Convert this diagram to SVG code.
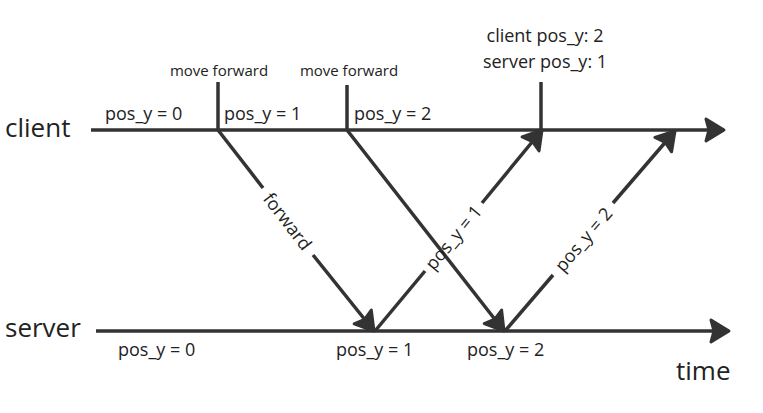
<svg xmlns="http://www.w3.org/2000/svg" width="763" height="413" viewBox="0 0 763 413">
<defs>
<marker id="ah" markerUnits="userSpaceOnUse" viewBox="0 0 24 28" refX="21" refY="14" markerWidth="24" markerHeight="28" orient="auto">
<path d="M3,3 L21,14 L3,25 L6,14 Z" fill="#333" stroke="#333" stroke-width="3" stroke-linejoin="round"/>
</marker>
</defs>
<style>
text{font-family:"Open Sans","Noto Sans",sans-serif;fill:#222}
.ln{stroke:#333;stroke-width:3.5;fill:none;stroke-linecap:butt}
.big{font-size:26px}
.lbl{font-size:18px}
.sm{font-size:15px}
.rot{font-size:18px;text-anchor:middle;dominant-baseline:central}
</style>
<g id="timeline-labels">
<text class="big" x="5" y="137">client</text>
<text class="big" x="5" y="337">server</text>
<text class="big" x="676" y="380">time</text>
</g>
<g id="connectors">
<line class="ln" x1="91" y1="130" x2="724" y2="130" marker-end="url(#ah)"/>
<line class="ln" x1="96" y1="331" x2="729" y2="331" marker-end="url(#ah)"/>
<line class="ln" x1="218" y1="82" x2="218" y2="130"/>
<line class="ln" x1="347" y1="85" x2="347" y2="130"/>
<line class="ln" x1="541" y1="82" x2="541" y2="130"/>
<line class="ln" x1="218" y1="130" x2="263" y2="188"/>
<line class="ln" x1="313" y1="255" x2="374" y2="331" marker-end="url(#ah)"/>
<line class="ln" x1="347" y1="130" x2="504" y2="331" marker-end="url(#ah)"/>
<line class="ln" x1="375" y1="331" x2="425" y2="271"/>
<line class="ln" x1="482" y1="203" x2="542" y2="130" marker-end="url(#ah)"/>
<line class="ln" x1="505" y1="331" x2="553" y2="275"/>
<line class="ln" x1="613" y1="203" x2="675" y2="131" marker-end="url(#ah)"/>
</g>
<g id="client-states">
<text class="lbl" x="105" y="120">pos_y = 0</text>
<text class="lbl" x="224" y="120">pos_y = 1</text>
<text class="lbl" x="354" y="120">pos_y = 2</text>
<text class="sm" x="219" y="76" text-anchor="middle">move forward</text>
<text class="sm" x="349" y="76" text-anchor="middle">move forward</text>
<text class="lbl" x="545" y="42" text-anchor="middle">client pos_y: 2</text>
<text class="lbl" x="545" y="68" text-anchor="middle">server pos_y: 1</text>
</g>
<g id="server-states">
<text class="lbl" x="118" y="356">pos_y = 0</text>
<text class="lbl" x="336" y="356">pos_y = 1</text>
<text class="lbl" x="467" y="356">pos_y = 2</text>
</g>
<g id="message-labels">
<text class="rot" transform="translate(288,221) rotate(52.4)">forward</text>
<text class="rot" transform="translate(453,237) rotate(-50.3)">pos_y = 1</text>
<text class="rot" transform="translate(583,239) rotate(-49.4)">pos_y = 2</text>
</g>
</svg>
